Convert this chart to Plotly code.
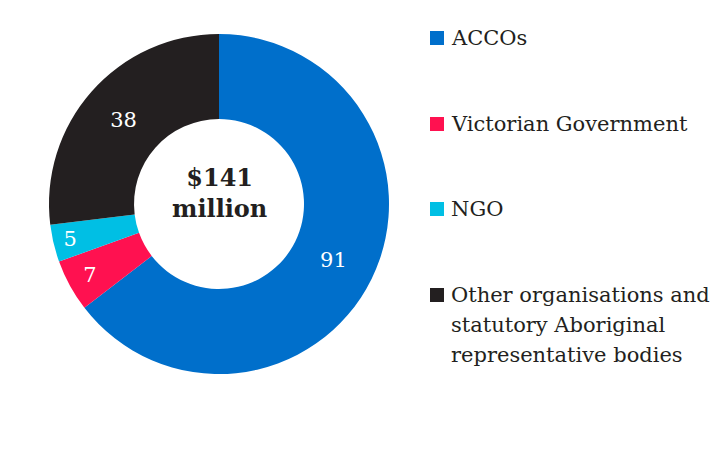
import plotly.graph_objects as go

categories = ["ACCOs", "Victorian Government", "NGO",
              "Other organisations and statutory Aboriginal representative bodies"]
legend_labels = [["ACCOs"], ["Victorian Government"], ["NGO"],
                 ["Other organisations and", "statutory Aboriginal", "representative bodies"]]
values = [91, 7, 5, 38]
colors = ["#006FCB", "#FF1150", "#00BFE4", "#231F20"]
center_text = "$141<br>million"

W, H = 712, 470
FONT = "DejaVu Serif"

fig = go.Figure()
fig.add_trace(go.Pie(
    labels=categories, values=values, sort=False, direction="clockwise",
    rotation=0, hole=0.5,
    marker=dict(colors=colors, line=dict(width=0)),
    textinfo="value", textposition="inside", insidetextorientation="horizontal",
    textfont=dict(family=FONT, size=21, color="white"),
    domain=dict(x=[(219 - 170) / W, (219 + 170) / W],
                y=[(266 - 170) / H, (266 + 170) / H]),
    showlegend=False, hoverinfo="label+value",
))

fig.add_annotation(x=219 / W, y=(H - 193) / H, xref="paper", yref="paper",
                   text="<b>" + center_text + "</b>", showarrow=False,
                   font=dict(family=FONT, size=24, color="#231F20"),
                   xanchor="center", yanchor="middle", align="center")

# manual legend
square_y = [38, 124, 209, 295]
LINE = 30
for lines, col, sy in zip(legend_labels, colors, square_y):
    fig.add_shape(type="rect", xref="paper", yref="paper",
                  x0=430 / W, x1=444 / W, y0=(H - sy - 7) / H, y1=(H - sy + 7) / H,
                  fillcolor=col, line=dict(width=0))
    for i, txt in enumerate(lines):
        fig.add_annotation(x=449 / W, y=(H - sy - i * LINE) / H, xref="paper", yref="paper",
                           text=txt, showarrow=False, align="left",
                           xanchor="left", yanchor="middle",
                           font=dict(family=FONT, size=21, color="#231F20"))

fig.update_layout(width=W, height=H, margin=dict(l=0, r=0, t=0, b=0),
                  paper_bgcolor="white", plot_bgcolor="white",
                  font=dict(family=FONT))
fig.write_html("out.html", config={"displayModeBar": False},
               post_script="document.body.style.margin='0px';")
